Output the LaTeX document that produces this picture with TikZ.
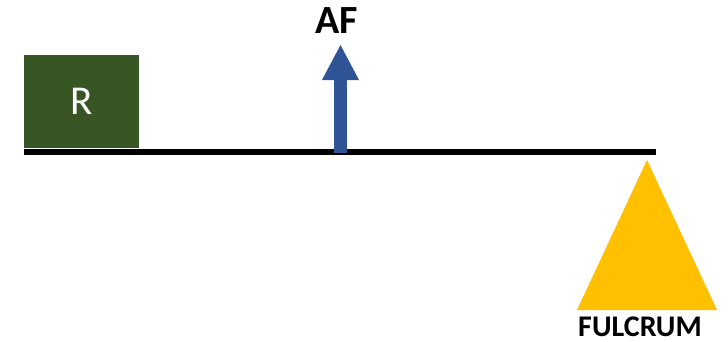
\documentclass[tikz,border=0pt]{standalone}
\usepackage{fontspec}
\setmainfont{Carlito}
\definecolor{loadgreen}{HTML}{375623}
\definecolor{forceblue}{HTML}{2F5597}
\definecolor{fulcrumgold}{HTML}{FFC000}
\tikzset{
  loadbox/.style={fill=loadgreen, draw=none, text=white, minimum width=115pt, minimum height=93pt, inner sep=0pt, font=\fontsize{41}{41}\selectfont},
  boldlabel/.style={text=black, inner sep=0pt, anchor=base, font=\bfseries},
}
\begin{document}
\begin{tikzpicture}[x=1pt,y=1pt]
  \useasboundingbox (0,0) rectangle (728,341);
  % lever beam
  \fill[black] (24,186) rectangle (656,192);
  % resistance load
  \node[loadbox] (load) at (81.5,239.5) {R};
  % applied force arrow
  \fill[forceblue] (334,188) rectangle (347,263);
  \fill[forceblue] (322,261) -- (359,261) -- (340.5,296) -- cycle;
  \node[boldlabel, font=\bfseries\fontsize{40}{40}\selectfont] (af) at (337,308) {AF};
  % fulcrum
  \fill[fulcrumgold] (647,181) -- (717,31) -- (577,31) -- cycle;
  \node[boldlabel, font=\bfseries\fontsize{30}{30}\selectfont] (fulcrum) at (640,4.5) {FULCRUM};
\end{tikzpicture}
\end{document}
